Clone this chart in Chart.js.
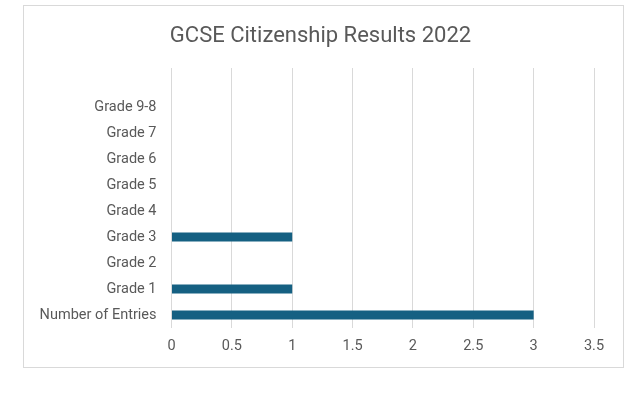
<!DOCTYPE html>
<html>
<head>
<meta charset="utf-8">
<script src="https://cdn.jsdelivr.net/npm/chart.js@4"></script>
<style>
  html, body { margin: 0; padding: 0; background: #fff; }
  #frame {
    position: absolute; left: 23px; top: 5px;
    width: 601px; height: 363px;
    box-sizing: border-box; border: 1px solid #d9d9d9;
  }
  #chart { display: block; }
</style>
</head>
<body>
<div id="frame"><canvas id="chart" width="599" height="361"></canvas></div>
<script>
// data, top row of the chart first
const CATEGORIES = ['', 'Grade 9-8', 'Grade 7', 'Grade 6', 'Grade 5', 'Grade 4', 'Grade 3', 'Grade 2', 'Grade 1', 'Number of Entries'];
const COUNTS     = [null, 0, 0, 0, 0, 0, 1, 0, 1, 3];
const X_TICKS    = ['0', '0.5', '1', '1.5', '2', '2.5', '3', '3.5'];

const TEXT = '#595959';
const GRID = '#d9d9d9';
const BAR  = '#156082';
const FONT = 'Roboto, "Liberation Sans", sans-serif';

new Chart(document.getElementById('chart'), {
  type: 'bar',
  data: {
    labels: CATEGORIES,
    datasets: [{
      data: COUNTS,
      backgroundColor: BAR,
      borderWidth: 0,
      categoryPercentage: 1,
      barPercentage: 0.35,
    }],
  },
  options: {
    indexAxis: 'y',
    responsive: false,
    animation: false,
    layout: { padding: { left: 0, right: 6, top: 0, bottom: 0 } },
    plugins: {
      legend: { display: false },
      tooltip: { enabled: false },
      title: {
        display: true,
        text: 'GCSE Citizenship Results 2022',
        color: TEXT,
        font: { family: FONT, size: 22, weight: 'normal' },
        padding: { top: 17.3, bottom: 18.3 },
      },
    },
    scales: {
      x: {
        min: 0, max: 3.5,
        ticks: {
          stepSize: 0.5,
          color: TEXT,
          padding: 10,
          font: { family: FONT, size: 14.5 },
          callback: (v, i) => X_TICKS[i],
        },
        grid: { color: GRID, drawTicks: false },
        border: { display: false },
        afterFit: s => { s.height = 39; },
      },
      y: {
        ticks: { color: TEXT, padding: 15, font: { family: FONT, size: 14.5 } },
        grid: { display: false, drawTicks: false },
        border: { display: false },
        afterFit: s => { s.width = 147.5; },
      },
      // empty strip on the right so the plot ends short of the frame
      // while the title stays centred on the whole frame
      spacer: {
        type: 'linear',
        position: 'right',
        ticks: { display: false },
        grid: { display: false, drawTicks: false },
        border: { display: false },
        afterFit: s => { s.width = 23; },
      },
    },
  },
});
</script>
</body>
</html>
